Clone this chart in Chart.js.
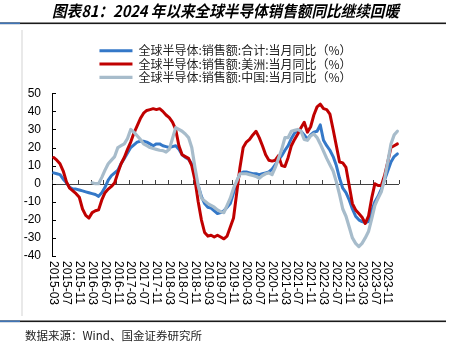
<!DOCTYPE html>
<html>
<head>
<meta charset="utf-8">
<script src="https://cdn.jsdelivr.net/npm/chart.js@4"></script>
<style>
  html, body { margin: 0; padding: 0; background: #fff; }
</style>
</head>
<body>
<canvas id="c" width="449" height="358"></canvas>
<script>
// categories: monthly, 2015-03 .. 2024-02
const months = [];
for (let y = 2015, m = 3; months.length < 108; m++) {
  if (m > 12) { m = 1; y++; }
  months.push(y + '-' + String(m).padStart(2, '0'));
}
// every 4th month gets a label
const tickLabels = months.filter((m, i) => i % 4 === 0);

const yTicks = [50, 40, 30, 20, 10, 0, -10, -20, -30, -40];

// 全球半导体:销售额:合计:当月同比（%）
const totalYoY = [
  6, 5.5, 5, 2.5, 0.5, -2, -3, -3, -3.5, -4,
  -4.5, -5, -5.5, -6, -7, -5, -2, 2, 4.5, 6, 7.5, 11,
  14, 17, 20, 21.5, 23, 23.5, 23.5, 23, 22, 21, 22, 22,
  21, 20.5, 20, 20.5, 21, 19, 16, 14.5, 13.5, 11, 5, -1,
  -7, -11, -13, -13.5, -15, -16.5, -16, -15, -13, -11, -5, 1,
  5.5, 6.5, 6.5, 6, 5.5, 5.5, 5, 5.5, 6, 6.5, 8, 10.5,
  13, 15.5, 18.5, 21, 25, 28, 29.5, 29, 27, 24.5, 27, 28.5,
  29, 32.5, 24, 21, 18.5, 15, 10, 3, -2.5, -5, -9, -14,
  -18, -20, -21, -21.5, -21, -15, -10, -7, -3, 2, 7, 12,
  15, 16.5
];

// 全球半导体:销售额:美洲:当月同比（%）
const americasYoY = [
  14.5, 13, 11, 7, 1, -2.5, -4, -5.5, -7.5, -14,
  -17.5, -19, -16, -15, -14.5, -9, -5, -3, -1.5, 0.5, 6, 11,
  14.5, 19, 23, 28, 32, 36, 39, 40.5, 41, 41.5, 41, 41.5,
  40, 38, 36.5, 34, 30, 21, 16, 15, 14, 10, 2, -10,
  -20, -27, -29, -28.5, -29.5, -28.5, -29.5, -30.5, -29, -24, -19, -5,
  9, 20, 23, 24.5, 27, 29, 25.5, 21, 16, 13, 12.5, 13,
  15.5, 10, 9.5, 14.5, 21, 24.5, 27.5, 31, 34, 28.5, 31.5, 38,
  42.5, 44, 41.5, 41, 38.5, 30, 21, 12, 11.5, 9, -1, -11,
  -14.5, -16.5, -18.5, -22, -18, -8, 0, -1, -1, 4.5, 12, 20,
  21, 22
];

// 全球半导体:销售额:中国:当月同比（%）
const chinaYoY = [
  null, null, null, null, null, null, null, null, null, null,
  null, null, 0.5, 0, 0, 3.5, 7.5, 11, 13, 15, 20, 21,
  22, 25, 30, 28.5, 26.5, 24.5, 22, 21, 20, 19.5, 19, 18.5,
  18.3, 17.5, 19, 25, 31, 30, 29, 27.5, 25.5, 20, 9, -1,
  -8, -9.5, -11, -12, -13, -14.5, -15.5, -16, -12, -8, -2.5, 1.5,
  5.5, 5.5, 5.5, 5, 4.5, 4, 3, 4.5, 5.5, 6, 5, 9,
  14, 19, 25.5, 25.5, 29, 29.5, 30, 29, 24.5, 24, 26.5, 27.5,
  25.5, 22, 18, 14, 10.5, 7, 1, -6, -14, -18, -24, -30,
  -33, -34.8, -33, -30, -26.5, -19.5, -12, -8, -4.5, 2.5, 12, 22,
  27, 29
];

const seriesNames = [
  '全球半导体:销售额:合计:当月同比（%）',
  '全球半导体:销售额:美洲:当月同比（%）',
  '全球半导体:销售额:中国:当月同比（%）'
];

const titleText = '图表81：2024 年以来全球半导体销售额同比继续回暖';
const sourceText = '数据来源：Wind、国金证券研究所';

const CJK = '"Noto Sans CJK SC", sans-serif';
const LAT = '"Liberation Sans", Arial, sans-serif';

// frame, axes, rotated month labels
const deco = {
  id: 'deco',
  beforeDatasetsDraw(chart) {
    const { ctx, chartArea: a, scales: { x, y } } = chart;
    const y0 = y.getPixelForValue(0);
    const band = x.getPixelForValue(1) - x.getPixelForValue(0);
    ctx.save();
    ctx.strokeStyle = '#404040';
    ctx.lineWidth = 1;
    ctx.beginPath();
    ctx.moveTo(a.left, Math.round(y0) + 0.5);
    ctx.lineTo(a.right, Math.round(y0) + 0.5);
    for (let i = 0; i <= months.length; i += 4) {
      const px = Math.round(x.getPixelForValue(i) - band / 2) + 0.5;
      ctx.moveTo(px, Math.round(y0));
      ctx.lineTo(px, Math.round(y0) - 4);
    }
    ctx.stroke();
    // y ticks, pointing inward
    ctx.strokeStyle = '#000';
    ctx.beginPath();
    yTicks.forEach(v => {
      const py = Math.round(y.getPixelForValue(v)) + 0.5;
      ctx.moveTo(a.left, py);
      ctx.lineTo(a.left + 4, py);
    });
    ctx.stroke();
    ctx.restore();
  },
  afterDraw(chart) {
    const { ctx, chartArea: a, scales: { x } } = chart;
    ctx.save();
    // header and footer rules
    [23.5, 321.5].forEach(ly => {
      ctx.fillStyle = '#1a1a1a';
      ctx.fillRect(0, ly - 1, 446, 1.6);
      ctx.fillStyle = '#3f74b6';
      ctx.fillRect(0, ly - 1, 20, 1.6);
    });
    // light frame line on the left
    ctx.fillStyle = '#d4d4d4';
    ctx.fillRect(21.5, 30, 1, 286);

    // month labels, rotated clockwise
    ctx.fillStyle = '#000';
    ctx.font = '12px ' + LAT;
    ctx.textAlign = 'left';
    ctx.textBaseline = 'middle';
    months.forEach((m, i) => {
      if (!tickLabels.includes(m)) return;
      ctx.save();
      ctx.translate(x.getPixelForValue(i), a.bottom + 5);
      ctx.rotate(Math.PI / 2);
      ctx.fillText(m, 0, 0);
      ctx.restore();
    });

    // source
    ctx.font = '11.5px ' + CJK;
    ctx.fillStyle = '#222';
    ctx.fillText(sourceText, 25, 336);
    ctx.restore();
  }
};

new Chart(document.getElementById('c'), {
  type: 'line',
  data: {
    labels: months,
    datasets: [
      { label: seriesNames[0], data: totalYoY, borderColor: '#3478c8', backgroundColor: '#3478c8', borderWidth: 3, order: 3 },
      { label: seriesNames[1], data: americasYoY, borderColor: '#c00000', backgroundColor: '#c00000', borderWidth: 3, order: 2 },
      { label: seriesNames[2], data: chinaYoY, borderColor: '#a7bccb', backgroundColor: '#a7bccb', borderWidth: 3.2, order: 1 }
    ]
  },
  options: {
    responsive: false,
    animation: false,
    layout: { padding: { top: 0, left: 0, right: 50, bottom: 102 } },
    elements: {
      line: { tension: 0, borderJoinStyle: 'round', borderCapStyle: 'round' },
      point: { radius: 0 }
    },
    scales: {
      x: { type: 'category', offset: true, display: false },
      y: {
        min: -40, max: 50,
        afterFit: s => { s.width = 52; },
        grid: { display: false, drawTicks: false },
        border: { display: true, color: '#000', width: 1 },
        ticks: { stepSize: 10, padding: 11, color: '#000', font: { family: LAT, size: 12 } }
      }
    },
    plugins: {
      tooltip: { enabled: false },
      title: {
        display: true,
        fullSize: false,
        text: titleText,
        color: '#000',
        font: { family: CJK, size: 16, weight: 'bold', style: 'italic' },
        padding: { top: 1.4, bottom: 22.8 }
      },
      legend: {
        fullSize: false,
        labels: {
          usePointStyle: true,
          pointStyle: 'line',
          pointStyleWidth: 33,
          boxHeight: 12,
          padding: 1.3,
          color: '#222',
          font: { family: CJK, size: 12 },
          sort: (p, q) => p.datasetIndex - q.datasetIndex
        }
      }
    }
  },
  plugins: [deco]
});
</script>
</body>
</html>
